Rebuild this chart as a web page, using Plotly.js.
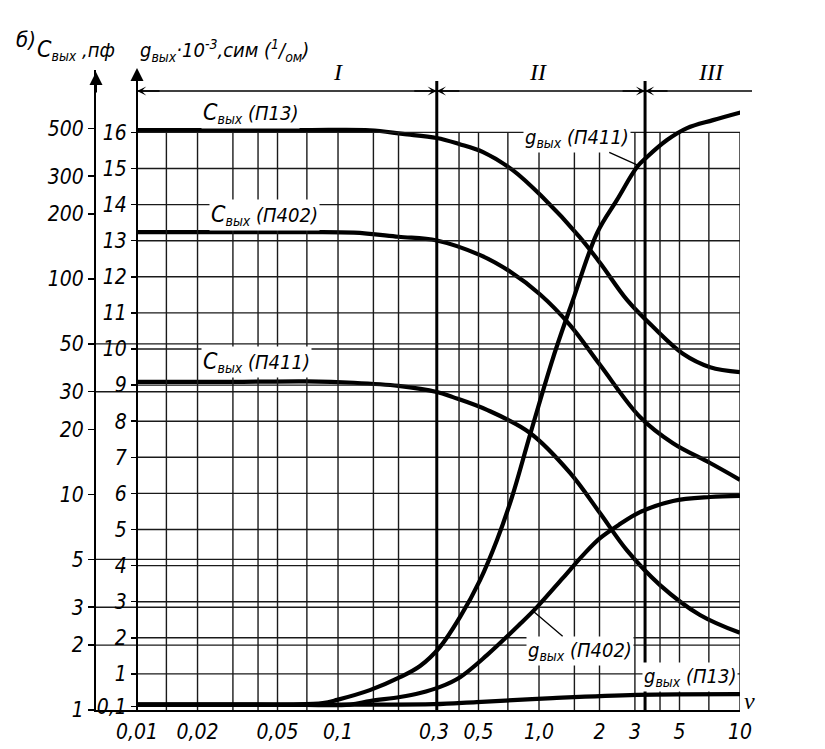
<!DOCTYPE html>
<html><head><meta charset="utf-8">
<script src="https://cdn.plot.ly/plotly-3.0.1.min.js"></script>
<style>html,body{margin:0;padding:0;background:#fff}</style>
</head><body><div id="chart" style="width:825px;height:749px"></div>
<script>
// ---------- axis ticks ----------
const nuTickVals = [0.01, 0.02, 0.05, 0.1, 0.3, 0.5, 1, 2, 3, 5, 10];
const nuTickText = ['0,01', '0,02', '0,05', '0,1', '0,3', '0,5', '1,0', '2', '3', '5', '10'];
const cTickVals = [1, 2, 3, 5, 10, 20, 30, 50, 100, 200, 300, 500];
const cTickText = ['1', '2', '3', '5', '10', '20', '30', '50', '100', '200', '300', '500'];
const gTickVals = [0.1, 1, 2, 3, 4, 5, 6, 7, 8, 9, 10, 11, 12, 13, 14, 15, 16];
const gTickText = ['0,1', '1', '2', '3', '4', '5', '6', '7', '8', '9', '10', '11', '12', '13', '14', '15', '16'];

// ---------- grid ----------
const xGridVals = [0.014, 0.02, 0.03, 0.04, 0.05, 0.07, 0.1, 0.15, 0.2, 0.4, 0.5, 0.7, 1, 1.5, 2, 3, 4, 5, 7, 10];
const gGridVals = [1, 2, 3, 4, 5, 6, 7, 8, 9, 10, 11, 12, 13, 14, 15, 16];
const cGridVals = [2, 3, 5, 30, 50];
const gGridTop = 16;
const nuLeft = 0.00625;   // left end of the frequency axis (outer C axis)
const nuMin = 0.01, nuMax = 10;

// ---------- region boundaries ----------
const regionBounds = [0.31, 3.37];
const regionNames = ['I', 'II', 'III'];
const regionLabelNu = [0.1, 0.99, 7.2];

// ---------- curves: output capacitance C, pF ----------
const nuC13 = [0.01, 0.03, 0.07, 0.144, 0.21, 0.31, 0.40, 0.527, 0.74, 1.04, 1.59, 2.01, 2.74, 3.69, 5.2, 7.1, 10];
const cP13  = [491, 491, 491, 490, 471, 451, 423, 388, 320, 240, 157, 119, 80, 60, 45, 39, 37];
const nuC402 = [0.01, 0.03, 0.07, 0.12, 0.2, 0.31, 0.51, 0.72, 1.01, 1.43, 2.01, 3.18, 4.64, 7.1, 10];
const cP402  = [165, 165, 165, 164, 157, 151, 129, 108, 85, 61, 40, 22.9, 17.3, 14.0, 11.7];
const nuC411 = [0.01, 0.03, 0.07, 0.12, 0.2, 0.31, 0.373, 0.551, 0.902, 1.427, 2.01, 2.74, 4.0, 6.32, 10];
const cP411  = [33.3, 33.3, 33.5, 33.0, 31.9, 29.9, 28.3, 24.7, 19.3, 12.6, 8.2, 5.5, 3.8, 2.76, 2.28];

// ---------- curves: output conductance g, 10^-3 S ----------
const nuG411 = [0.01, 0.03, 0.06, 0.084, 0.099, 0.144, 0.2035, 0.256, 0.322, 0.405, 0.509, 0.618, 0.734, 0.902, 1.174, 1.476, 1.944, 2.443, 3.074, 3.446, 4.334, 5.45, 7.34, 10.35];
const gP411  = [0.15, 0.15, 0.15, 0.19, 0.28, 0.55, 0.91, 1.22, 1.75, 2.58, 3.60, 4.71, 5.90, 7.62, 9.75, 11.36, 13.21, 14.13, 15.04, 15.32, 15.79, 16.12, 16.34, 16.57];
const nuG402 = [0.01, 0.05, 0.1147, 0.1443, 0.2035, 0.256, 0.322, 0.405, 0.551, 0.804, 0.977, 1.316, 1.656, 2.012, 2.53, 3.18, 4.64, 7.09, 10];
const gP402  = [0.15, 0.15, 0.15, 0.25, 0.36, 0.47, 0.64, 0.91, 1.52, 2.38, 2.85, 3.66, 4.29, 4.76, 5.15, 5.48, 5.79, 5.90, 5.93];
const nuG13 = [0.01, 0.1, 0.3, 0.49, 1.17, 3.07, 10];
const gP13  = [0.15, 0.15, 0.16, 0.22, 0.33, 0.42, 0.44];

// ---------- build traces ----------
const gridColor = '#1a1a1a';
const gridV = {x: [], y: [], xaxis: 'x', yaxis: 'y2', mode: 'lines', line: {color: gridColor, width: 1.4}, hoverinfo: 'skip', showlegend: false};
xGridVals.forEach(v => { gridV.x.push(v, v, null); gridV.y.push(0, gGridTop, null); });
const gridHG = {x: [], y: [], xaxis: 'x', yaxis: 'y2', mode: 'lines', line: {color: gridColor, width: 1.4}, hoverinfo: 'skip', showlegend: false};
gGridVals.forEach(g => { gridHG.x.push(nuMin, nuMax, null); gridHG.y.push(g, g, null); });
const gridHC = {x: [], y: [], xaxis: 'x', yaxis: 'y', mode: 'lines', line: {color: gridColor, width: 1.4}, hoverinfo: 'skip', showlegend: false};
cGridVals.forEach(c => { gridHC.x.push(nuLeft, nuMax, null); gridHC.y.push(c, c, null); });

function curve(x, y, ax) {
  return {x: x, y: y, xaxis: 'x', yaxis: ax, mode: 'lines',
          line: {color: '#000', width: 4.2, shape: 'spline', smoothing: 1},
          hoverinfo: 'skip', showlegend: false};
}
const traces = [gridV, gridHG, gridHC,
  curve(nuC13, cP13, 'y'), curve(nuC402, cP402, 'y'), curve(nuC411, cP411, 'y'),
  curve(nuG411, gP411, 'y2'), curve(nuG402, gP402, 'y2'), curve(nuG13, gP13, 'y2')];

// ---------- layout ----------
const W = 825, H = 749;
const yBot = 1 - 710 / H, yTop = 1 - 70 / H;
const plotH = 640;
const cTop = plotH / 215.5;   // decades
const gTop = plotH / 36.1;
const L = Math.log10;
const hand = 'DejaVu Sans Condensed, Liberation Sans Narrow, DejaVu Sans, sans-serif';
const tickFont = {family: hand, size: 21, color: '#000', style: 'italic'};
const labFont = {family: hand, size: 20, color: '#000', style: 'italic'};
const romanFont = {family: 'Liberation Serif, DejaVu Serif, serif', size: 24, color: '#000', style: 'italic'};
const bigC = '<span style="font-size:23px">C</span>';

const annotations = [];
function lab(text, nu, y, extra) {
  return Object.assign({text: text, x: L(nu), y: y, xref: 'x', yref: 'y2', xanchor: 'center', yanchor: 'middle',
    showarrow: false, font: labFont, bgcolor: '#fff', borderpad: 1}, extra || {});
}
annotations.push(lab(bigC + '<sub>вых</sub> (П13)', 0.0365, 16.54));
annotations.push(lab(bigC + '<sub>вых</sub> (П402)', 0.0433, 13.71));
annotations.push(lab(bigC + '<sub>вых</sub> (П411)', 0.0395, 9.64));
annotations.push(lab('g<sub>вых</sub> (П411)', 3.074, 15.1,
  {showarrow: true, arrowhead: 0, arrowwidth: 1.3, arrowcolor: '#000', ax: -60, ay: -27}));
annotations.push(lab('g<sub>вых</sub> (П402)', 0.93, 2.75,
  {showarrow: true, arrowhead: 0, arrowwidth: 1.3, arrowcolor: '#000', ax: 47, ay: 40}));
annotations.push(lab('g<sub>вых</sub> (П13)', 5.64, 0.91));

// region names
regionNames.forEach((n, i) => annotations.push({text: n, x: L(regionLabelNu[i]), y: 1 - 72 / H, xref: 'x', yref: 'paper',
  xanchor: 'center', yanchor: 'middle', showarrow: false, font: romanFont}));

// dimension arrows
const arrowPts = [[nuMin, -1], [regionBounds[0], 1], [regionBounds[0], -1], [regionBounds[1], 1], [regionBounds[1], -1]];
arrowPts.forEach(p => annotations.push({text: '', x: L(p[0]), y: 1 - 91 / H, xref: 'x', yref: 'paper',
  showarrow: true, arrowhead: 3, arrowsize: 1.1, arrowwidth: 1.4, arrowcolor: '#000',
  ax: (p[1] > 0 ? -24 : 24), ay: 0, standoff: 0}));

// axis arrows
[[96, 72], [137, 68]].forEach(p => annotations.push({text: '', x: p[0] / W, y: 1 - p[1] / H,
  xref: 'paper', yref: 'paper', showarrow: true, arrowhead: 2, arrowsize: 1.3, arrowwidth: 2,
  arrowcolor: '#000', ax: 0, ay: 22, standoff: 0}));

// axis titles
function paperText(text, px, py, font) {
  return {text: text, x: px / W, y: 1 - py / H, xref: 'paper', yref: 'paper', xanchor: 'center',
    yanchor: 'middle', showarrow: false, font: font};
}
annotations.push(paperText('б)', 26, 40, {family: hand, size: 22, color: '#000', style: 'italic'}));
annotations.push(paperText(bigC + '<sub>вых</sub> ,пф', 76, 50, labFont));
annotations.push(paperText('g<sub>вых</sub>·10<sup>-3</sup>,сим (<sup>1</sup>/<sub>ом</sub>)', 224, 50, labFont));
annotations.push(paperText('ν', 749, 701, romanFont));

const shapes = [];
regionBounds.forEach(b => shapes.push({type: 'line', xref: 'x', yref: 'paper', x0: b, x1: b,
  y0: yBot, y1: 1 - 81 / H, line: {color: '#000', width: 3}}));
shapes.push({type: 'line', xref: 'paper', yref: 'paper', x0: 137 / W, x1: 752 / W,
  y0: 1 - 91 / H, y1: 1 - 91 / H, line: {color: '#000', width: 1.4}});

const layout = {
  width: W, height: H, margin: {l: 0, r: 0, t: 0, b: 0},
  paper_bgcolor: '#fff', plot_bgcolor: '#fff', showlegend: false,
  xaxis: {type: 'log', domain: [96 / W, 740 / W], range: [L(nuLeft), 1],
    tickvals: nuTickVals, ticktext: nuTickText, tickfont: tickFont, ticks: '',
    ticklabelstandoff: 2, showgrid: false, zeroline: false, showline: true, linewidth: 2,
    linecolor: '#000', anchor: 'y', fixedrange: true},
  yaxis: {type: 'log', domain: [yBot, yTop], range: [0, cTop], tickvals: cTickVals, ticktext: cTickText,
    tickfont: tickFont, ticks: 'outside', ticklen: 6, tickwidth: 1.5, tickcolor: '#000',
    showgrid: false, zeroline: false, showline: true, linewidth: 2, linecolor: '#000', anchor: 'x',
    fixedrange: true},
  yaxis2: {overlaying: 'y', anchor: 'free', position: 137 / W, side: 'left', range: [0, gTop],
    tickvals: gTickVals, ticktext: gTickText, tickfont: tickFont, ticks: 'outside', ticklen: 5,
    tickwidth: 1.5, tickcolor: '#000', showgrid: false, zeroline: false, showline: true,
    linewidth: 2, linecolor: '#000', fixedrange: true},
  annotations: annotations, shapes: shapes
};
Plotly.newPlot('chart', traces, layout, {displayModeBar: false, staticPlot: true});
</script></body></html>
